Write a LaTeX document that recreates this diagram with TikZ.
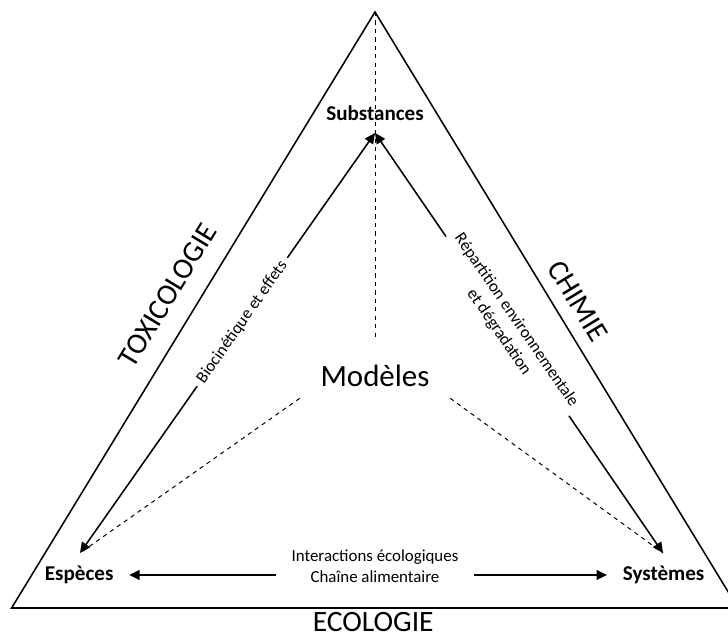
\documentclass[tikz,border=0pt]{standalone}
\usepackage{fontspec}
\setmainfont{Carlito}
\usetikzlibrary{arrows.meta}

\begin{document}
\begin{tikzpicture}[
    side/.style={line width=1.1pt},
    link/.style={line width=1.1pt},
    dashline/.style={dashed, line width=0.7pt},
    pole/.style={font=\fontsize{15}{18}\selectfont\bfseries, inner xsep=11pt},
    field/.style={font=\fontsize{21}{25}\selectfont},
    tag/.style={font=\fontsize{12}{15}\selectfont, fill=white, align=center, inner xsep=4pt, inner ysep=1pt},
    >={Triangle[length=7.5pt,width=7pt]}
  ]
  \useasboundingbox (0,0) rectangle (18.2,15.925);
  \clip (0,0) rectangle (18.2,15.925);

  % triangle
  \coordinate (apex) at (9.375,15.625);
  \coordinate (left) at (0.29,0.725);
  \coordinate (right) at (18.45,0.725);
  \draw[side] (left) -- (apex) -- (right) -- cycle;

  \node[field, rotate=58.7] (toxi) at (4.19,8.55) {TOXICOLOGIE};
  \node[field, rotate=-58.7] (chim) at (14.45,8.4) {CHIMIE};
  \node[field] (ecol) at (9.33,0.38) {ECOLOGIE};

  % poles
  \node[pole] (sub) at (9.375,13.1) {Substances};
  \node[pole] (esp) at (1.98,1.55) {Espèces};
  \node[pole] (sys) at (16.59,1.55) {Systèmes};
  \node[font=\fontsize{22}{26}\selectfont, minimum width=3.75cm, minimum height=1.1cm] (mod) at (9.375,6.525) {Modèles};

  \coordinate (subtip) at (9.375,12.6);
  \coordinate (esptip) at (2.0,2.1);
  \coordinate (systip) at (16.575,2.1);

  % dashed links to the model
  \draw[dashline, shorten >=0.35cm] (apex) -- (mod);
  \draw[dashline] (mod.south west) -- (esptip);
  \draw[dashline] (mod.south east) -- (systip);

  % arrows
  \draw[link, <->] (subtip) -- (esptip) node[tag, pos=0.45, sloped] (bio) {Biocinétique et effets};
  \draw[link, <->] (subtip) -- (systip) node[tag, pos=0.46, sloped] (rep) {Répartition environnementale\\et dégradation};

  \node[tag, inner xsep=11pt] (inter) at (9.375,1.775) {Interactions écologiques\\Chaîne alimentaire};
  \draw[link, <-] (esp.east) -- (esp.east -| inter.west);
  \draw[link, ->] (sys.west -| inter.east) -- (sys.west);
\end{tikzpicture}
\end{document}
